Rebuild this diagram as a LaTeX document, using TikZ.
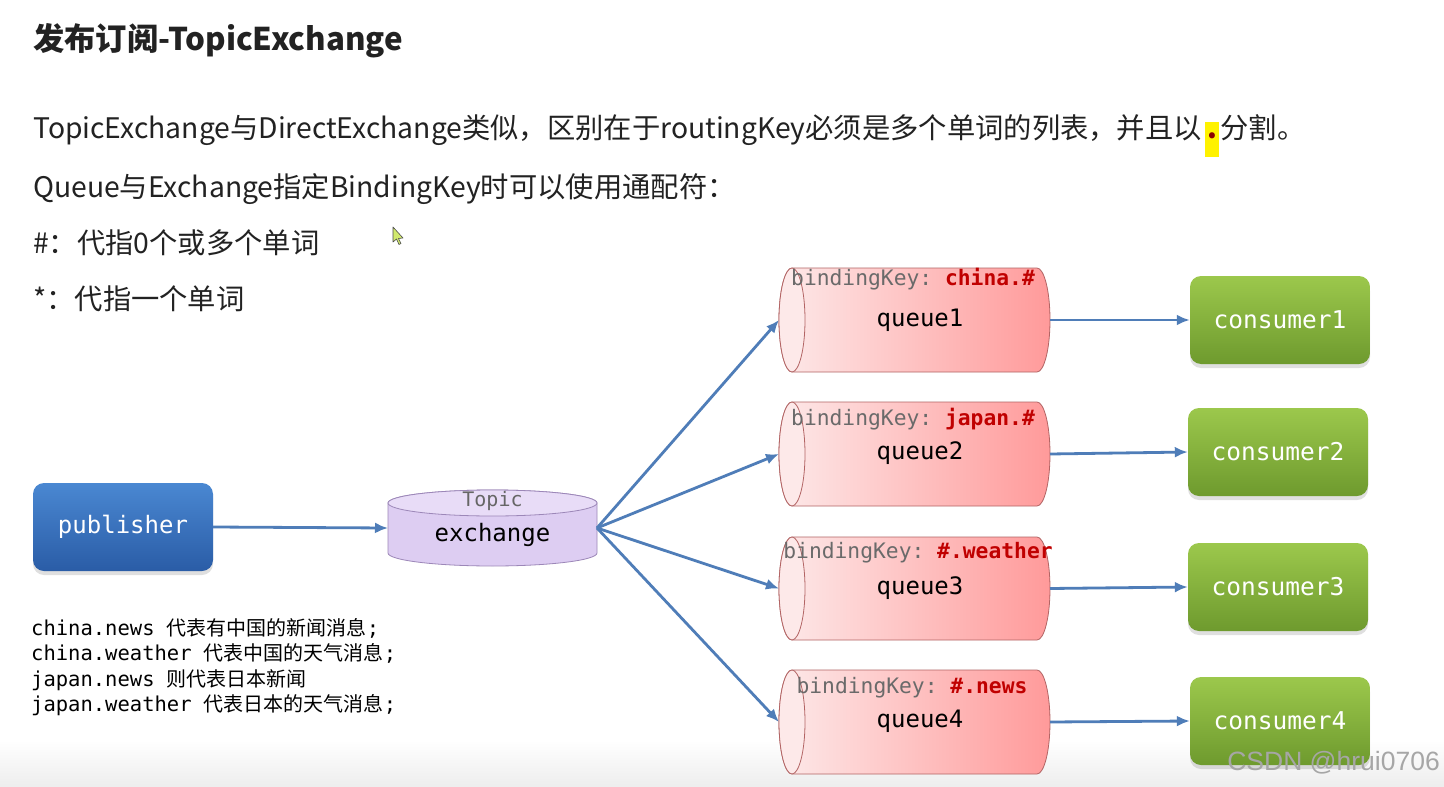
\documentclass[tikz,border=0pt]{standalone}
\usepackage{fontspec}
\setmainfont{Noto Sans CJK SC}
\setmonofont{DejaVu Sans Mono}
\newfontfamily\wmfont{Liberation Sans}
\usetikzlibrary{arrows.meta,shadows}
\definecolor{arrblue}{HTML}{4F7DB8}
\definecolor{pubtop}{HTML}{4A88D2}
\definecolor{pubbot}{HTML}{2A5CA6}
\definecolor{exfill}{HTML}{DDCDF2}
\definecolor{extop}{HTML}{E8DCF7}
\definecolor{exline}{HTML}{9C87B8}
\definecolor{qleft}{HTML}{FDE9E9}
\definecolor{qright}{HTML}{FF9A9A}
\definecolor{qline}{HTML}{B26464}
\definecolor{keyred}{HTML}{C00000}
\definecolor{keygray}{HTML}{6A6A6A}
\definecolor{gtop}{HTML}{9CC84C}
\definecolor{gbot}{HTML}{6E9A2E}
\definecolor{txt}{HTML}{222222}
\newcommand\monotxt[1]{{\ttfamily\fontsize{20.5}{20.5}\selectfont #1}}
\begin{document}
\begin{tikzpicture}[x=1pt,y=1pt,yscale=-1,
  arr/.style={draw=arrblue,line width=2.8pt,-{Latex[length=13pt,width=11pt]}},
  anchorbox/.style={inner sep=0pt,outer sep=0pt,draw=none,fill=none},
  pubbox/.style={rounded corners=11pt,top color=pubtop,bottom color=pubbot,draw=none,
     minimum width=180pt,minimum height=88pt,inner sep=0pt,
     drop shadow={shadow xshift=0pt,shadow yshift=-4pt,opacity=0.25}},
  conbox/.style={rounded corners=11pt,top color=gtop,bottom color=gbot,draw=none,
     minimum width=180pt,minimum height=88pt,inner sep=0pt,
     drop shadow={shadow xshift=0pt,shadow yshift=-4pt,opacity=0.25},
     text=white,font=\ttfamily\fontsize{24.5}{24.5}\selectfont},
  bodytext/.style={anchor=base west,inner sep=0pt,text=txt,font=\fontsize{28.3}{28.3}\selectfont},
  keytext/.style={inner sep=0pt,font=\ttfamily\fontsize{21.3}{21.3}\selectfont,text=keygray},
  qtext/.style={inner sep=0pt,font=\ttfamily\fontsize{24}{24}\selectfont,text=black},
  notetext/.style={anchor=base west,inner sep=0pt,text=black,font=\fontsize{20}{20}\selectfont},
]
\useasboundingbox (0,0) rectangle (1444,787);
\fill[white] (0,0) rectangle (1444,787);
\shade[top color=white,bottom color=black!7] (0,740) rectangle (1444,787);

% ---- header texts
\node[bodytext,font=\bfseries\fontsize{31.3}{31.3}\selectfont] (title) at (33,50) {发布订阅-TopicExchange};
\node[bodytext] (l1a) at (33,138) {TopicExchange与DirectExchange类似，区别在于routingKey必须是多个单词的列表，并且以};
\node[anchor=base west,fill=yellow,inner xsep=2pt,inner ysep=0pt,minimum height=35pt,text depth=9pt,
      text=red!55!black,font=\bfseries\fontsize{28}{28}\selectfont] (dot) at ([xshift=3pt]l1a.base east) {.};
\node[bodytext] (l1b) at ([xshift=1pt]dot.base east) {分割。};
\node[bodytext] (l2) at (33,197) {Queue与Exchange指定BindingKey时可以使用通配符：};
\node[bodytext] (l3) at (33,253) {\#：代指0个或多个单词};
\node[bodytext] (l4) at (33,309) {*：代指一个单词};

% ---- mouse cursor
\draw[fill=yellow!70!green!60,draw=black!70,line width=0.6pt,line join=round]
  (393,227) -- (393,242) -- (396.5,239) -- (399,244.5) -- (401,243.5) -- (398.5,238.5) -- (403,238) -- cycle;

% ---- publisher
\node[pubbox,text=white,font=\ttfamily\fontsize{24}{24}\selectfont] (pub) at (123,527) {publisher};

% ---- exchange cylinder
\path[fill=exfill,draw=exline,line width=0.8pt]
  (388,503) -- (388,553) arc[start angle=180,end angle=0,x radius=104.5,y radius=13]
  -- (597,503) arc[start angle=0,end angle=-180,x radius=104.5,y radius=13] -- cycle;
\path[fill=extop,draw=exline,line width=0.8pt] (492.5,503) ellipse[x radius=104.5,y radius=13];
\node[anchorbox,minimum width=209pt,minimum height=50pt] (ex) at (492.5,528) {};
\node[inner sep=0pt,font=\ttfamily\fontsize{20}{20}\selectfont,text=black!60] (extopic) at (492.5,501) {Topic};
\node[inner sep=0pt,font=\ttfamily\fontsize{24}{24}\selectfont,text=black] (exname) at (492.5,535) {exchange};

% ---- queues
\foreach \n/\T/\B in {1/268/372,2/402/506,3/537/640,4/670/774}{
  \pgfmathsetmacro\cy{(\T+\B)/2}
  \pgfmathsetmacro\ry{(\B-\T)/2}
  \path[left color=qleft,right color=qright,draw=qline,line width=0.8pt]
    (792,\T) -- (1037,\T) arc[start angle=-90,end angle=90,x radius=13,y radius=\ry]
    -- (792,\B) arc[start angle=90,end angle=270,x radius=13,y radius=\ry] -- cycle;
  \path[fill=qleft,draw=qline,line width=0.8pt] (792,\cy) ellipse[x radius=13,y radius=\ry];
  \node[anchorbox,minimum width=271pt,minimum height=100pt] (q\n) at (914.5,\cy) {};
}
\node[keytext] (k1) at (913,279) {bindingKey: \textcolor{keyred}{\bfseries china.\#}};
\node[keytext] (k2) at (913,419) {bindingKey: \textcolor{keyred}{\bfseries japan.\#}};
\node[keytext] (k3) at (918,553) {bindingKey: \textcolor{keyred}{\bfseries \#.weather}};
\node[keytext] (k4) at (912,688) {bindingKey: \textcolor{keyred}{\bfseries \#.news}};
\node[qtext] (qt1) at (920,320) {queue1};
\node[qtext] (qt2) at (920,453) {queue2};
\node[qtext] (qt3) at (920,588) {queue3};
\node[qtext] (qt4) at (920,721) {queue4};

% ---- consumers
\node[conbox] (c1) at (1280,320) {consumer1};
\node[conbox] (c2) at (1278,452) {consumer2};
\node[conbox] (c3) at (1278,587) {consumer3};
\node[conbox] (c4) at (1280,721) {consumer4};

% ---- connectors
\draw[arr] (pub.east) -- (ex.west);
\draw[arr] (ex.east) -- (q1.west);
\draw[arr] (ex.east) -- (q2.west);
\draw[arr] (ex.east) -- (q3.west);
\draw[arr] (ex.east) -- (q4.west);
\draw[arr] (q1.east) -- (c1.west);
\draw[arr] (q2.east) -- (c2.west);
\draw[arr] (q3.east) -- (c3.west);
\draw[arr] (q4.east) -- (c4.west);

% ---- notes
\node[notetext] (n1) at (31,635) {\monotxt{china.news }代表有中国的新闻消息\monotxt{;}};
\node[notetext] (n2) at (31,660) {\monotxt{china.weather }代表中国的天气消息\monotxt{;}};
\node[notetext] (n3) at (31,686) {\monotxt{japan.news }则代表日本新闻};
\node[notetext] (n4) at (31,711) {\monotxt{japan.weather }代表日本的天气消息\monotxt{;}};

% ---- watermark
\node[anchor=base east,inner sep=0pt,text=black!35,font=\wmfont\fontsize{26.5}{26.5}\selectfont] (wm) at (1440,770) {CSDN @hrui0706};
\end{tikzpicture}
\end{document}
